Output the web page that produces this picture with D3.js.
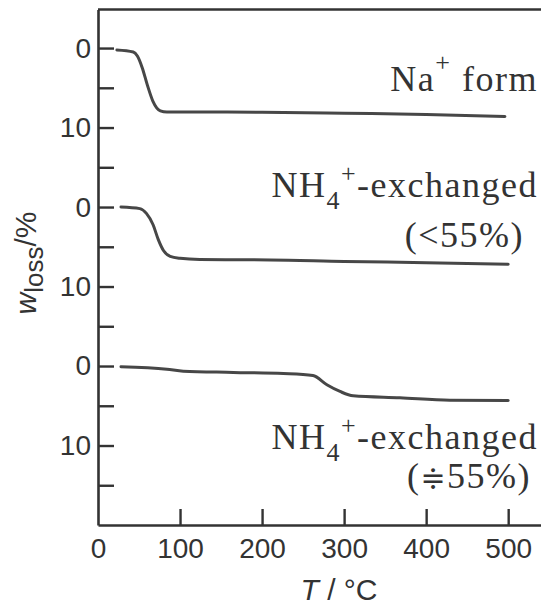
<!DOCTYPE html>
<html>
<head>
<meta charset="utf-8">
<script src="https://cdn.jsdelivr.net/npm/d3@7"></script>
<style>
  body { margin: 0; background: #fff; }
  svg { display: block; }
</style>
</head>
<body>
<div id="chart"></div>
<script>
// TG curves (T in deg C, weight loss in %)
const naTemps = [23, 43, 48, 54, 60, 67, 76, 84, 124, 200, 300, 400, 496];
const naLoss  = [0.25, 0.5, 1.0, 2.5, 4.6, 6.7, 7.9, 8.05, 8.05, 8.07, 8.2, 8.35, 8.6];

const nh4LowTemps = [28, 51, 59, 67, 73.5, 80, 88, 100, 124, 210, 300, 400, 500];
const nh4LowLoss  = [0, 0.2, 0.8, 2.2, 4.1, 5.5, 6.2, 6.45, 6.6, 6.65, 6.85, 7.0, 7.2];

const nh4HighTemps = [28, 84, 104, 165, 226, 262, 279, 295, 311, 368, 429, 500];
const nh4HighLoss  = [0.1, 0.4, 0.65, 0.8, 0.95, 1.2, 2.35, 3.2, 3.75, 4.0, 4.3, 4.35];

// each curve sits in its own 20 % band of the shared axis
const panelOffsets = [0, 20, 40];
const xTicks = [0, 100, 200, 300, 400, 500];
const yTicks = [0, 5, 10, 15, 20, 25, 30, 35, 40, 45, 50, 55];

const width = 541, height = 608;
const ink = "#333";

var svg = d3.select("#chart").append("svg")
  .attr("width", width)
  .attr("height", height);

var x = d3.scaleLinear().domain([0, 540]).range([98, 541]);
var y = d3.scaleLinear().domain([-4.85, 60]).range([9.5, 525]);

function tick_label(d)
{
  let r = d % 20;
  if (r === 0) { return "0"; }
  else if (r === 10) { return "10"; }
  return "";
}

// y axis, ticks pointing into the plot
var yAxis = svg.append("g")
  .attr("transform", "translate(" + x(0) + ",0)")
  .call(d3.axisLeft(y).tickValues(yTicks).tickFormat(tick_label)
    .tickSizeInner(-16).tickSizeOuter(0).tickPadding(7));

// x axis
var xAxis = svg.append("g")
  .attr("transform", "translate(0," + y(60) + ")")
  .call(d3.axisBottom(x).tickValues(xTicks).tickFormat(d3.format("d"))
    .tickSizeInner(-16).tickSizeOuter(0).tickPadding(13));

[xAxis, yAxis].forEach(function(g) {
  g.select(".domain").attr("stroke", ink).attr("stroke-width", 2.6);
  g.selectAll(".tick line").attr("stroke", ink).attr("stroke-width", 2.4);
  g.selectAll(".tick text")
    .attr("fill", ink)
    .attr("font-family", "'Liberation Sans', Arial, sans-serif")
    .attr("font-size", "28px");
});
xAxis.selectAll(".tick").filter(d => d === 0).select("line").remove();

// top frame line
svg.append("line")
  .attr("x1", x(0)).attr("x2", x(540))
  .attr("y1", y(-4.85)).attr("y2", y(-4.85))
  .attr("stroke", ink)
  .attr("stroke-width", 2.4);

// curves
const curves = [
  {temps: naTemps, loss: naLoss},
  {temps: nh4LowTemps, loss: nh4LowLoss},
  {temps: nh4HighTemps, loss: nh4HighLoss}
];

var line = d3.line()
  .x(d => x(d[0]))
  .y(d => y(d[1]))
  .curve(d3.curveMonotoneX);

curves.forEach(function(c, i) {
  let pts = c.temps.map((t, k) => [t, c.loss[k] + panelOffsets[i]]);
  svg.append("path")
    .datum(pts)
    .attr("d", line)
    .attr("fill", "none")
    .attr("stroke", "#474747")
    .attr("stroke-width", 3)
    .attr("stroke-linecap", "round");
});

// sample labels
function serif_text(xp, yp)
{
  return svg.append("text")
    .attr("x", xp).attr("y", yp)
    .attr("text-anchor", "end")
    .attr("fill", ink)
    .attr("font-family", "'Liberation Serif', 'Times New Roman', serif")
    .attr("font-size", "36px")
    .attr("letter-spacing", "1.5px");
}

var t1 = serif_text(538, 91);
t1.append("tspan").text("Na");
t1.append("tspan").attr("font-size", "26px").attr("dy", -20).text("+");
t1.append("tspan").attr("dy", 20).text(" form");

function nh4_label(yp)
{
  var t = serif_text(538, yp);
  t.append("tspan").text("NH");
  t.append("tspan").attr("font-size", "26px").attr("dy", 12).text("4");
  t.append("tspan").attr("font-size", "26px").attr("dy", -27).text("+");
  t.append("tspan").attr("dy", 15).text("-exchanged");
}

nh4_label(197);
serif_text(524, 247).text("(<55%)");

nh4_label(449);
var t3 = serif_text(531, 488);
t3.append("tspan").text("(");
t3.append("tspan").attr("font-family", "'DejaVu Serif', serif").attr("font-size", "30px").text("\u2251");
t3.append("tspan").text("55%)");

// axis titles
var xt = svg.append("text")
  .attr("x", 339).attr("y", 600)
  .attr("text-anchor", "middle")
  .attr("fill", ink)
  .attr("font-family", "'Liberation Sans', Arial, sans-serif")
  .attr("font-size", "30px");
xt.append("tspan").attr("font-style", "italic").text("T");
xt.append("tspan").text(" / \u00B0C");

var yt = svg.append("text")
  .attr("transform", "translate(36,263) rotate(-90)")
  .attr("text-anchor", "middle")
  .attr("fill", ink)
  .attr("font-family", "'Liberation Sans', Arial, sans-serif")
  .attr("font-size", "30px");
yt.append("tspan").attr("font-style", "italic").text("w");
yt.append("tspan").attr("font-size", "26px").attr("dy", 7).text("loss");
yt.append("tspan").attr("dy", -7).text("/%");
</script>
</body>
</html>
